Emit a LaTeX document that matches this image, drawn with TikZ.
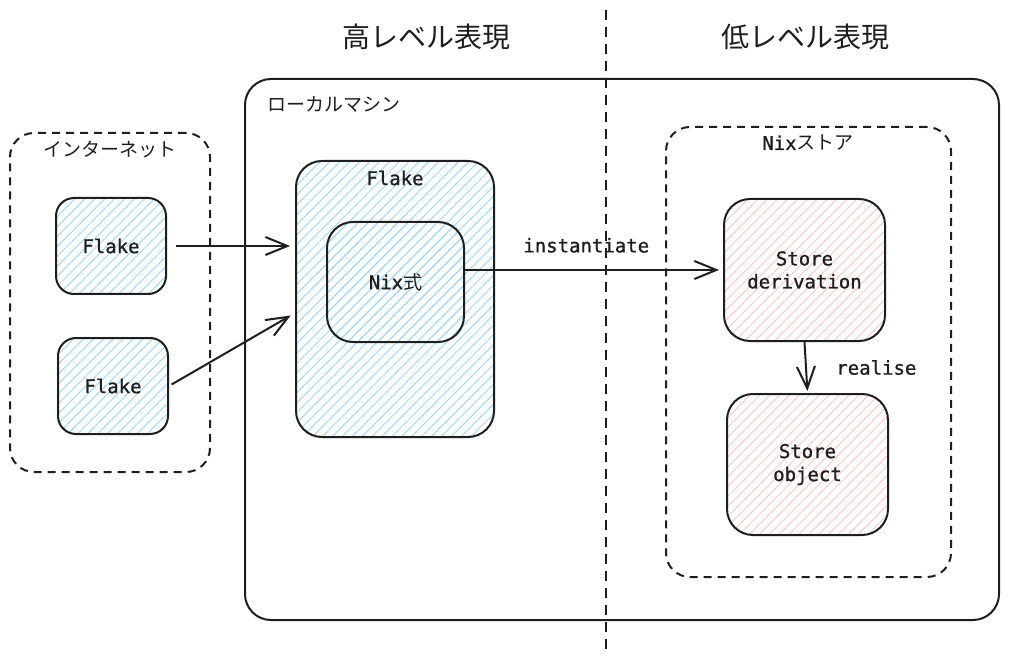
\documentclass[tikz,border=0pt]{standalone}
\usepackage{fontspec}
\newfontfamily\codefont{DejaVu Sans Mono}[FakeBold=1]
\newfontfamily\jp{Noto Sans CJK JP}
\usetikzlibrary{arrows.meta,patterns.meta,positioning}
\definecolor{ink}{HTML}{1E1E1E}
\definecolor{hatchb}{HTML}{A5D8FF}
\definecolor{hatchr}{HTML}{FFC9C9}

\begin{document}
\begin{tikzpicture}[x=1pt,y=-1pt,
    every node/.style={text=ink},
    box/.style={draw=ink,line width=2pt,rounded corners=#1,inner sep=0pt},
    box/.default=18pt,
    dashbox/.style={box=24pt,dash pattern=on 8pt off 6pt},
    hatchblue/.style={pattern={Lines[angle=45,distance=7pt,line width=1pt]},pattern color=hatchb},
    hatchred/.style={pattern={Lines[angle=45,distance=7pt,line width=1pt]},pattern color=hatchr},
    mono/.style={font=\fontsize{19}{23}\selectfont\codefont,align=center},
    arr/.style={draw=ink,line width=2pt,-{Straight Barb[length=22pt,width=18pt,line width=2pt]}}]
  \useasboundingbox (0,0) rectangle (1009,660);

  % titles and divider
  \node[font=\fontsize{28}{32}\selectfont\jp] (high) at (426,37) {高レベル表現};
  \node[font=\fontsize{28}{32}\selectfont\jp] (low) at (805,37) {低レベル表現};
  \coordinate (divtop) at (606,10);
  \coordinate (divbot) at (606,652);
  \draw[ink,line width=2pt,dash pattern=on 10pt off 7pt] (divtop) -- (divbot);

  % local machine
  \node[box=26pt,minimum width=754pt,minimum height=541pt] (local) at (622,349.5) {};
  \node[font=\fontsize{19}{22}\selectfont\jp,anchor=west] (localname) at (264,104) {ローカルマシン};

  % internet
  \node[dashbox,minimum width=200pt,minimum height=339pt] (net) at (110,302.5) {};
  \node[font=\fontsize{19}{22}\selectfont\jp] (netname) at (110,149) {インターネット};
  \node[box,hatchblue,minimum width=110pt,minimum height=96pt,mono] (flakeA) at (111,246) {Flake};
  \node[box,hatchblue,minimum width=110pt,minimum height=96pt,mono] (flakeB) at (113,386) {Flake};

  % flake in local machine
  \node[box=26pt,hatchblue,minimum width=198pt,minimum height=276pt] (flakeBig) at (395,299) {};
  \node[mono] (flakeBigname) at (395,178) {Flake};
  \node[box=26pt,hatchblue,minimum width=137pt,minimum height=120pt,mono] (nix) at (395.5,282) {Nix{\jp 式}};

  % nix store
  \node[dashbox,minimum width=285pt,minimum height=450pt] (store) at (808.5,352) {};
  \node[mono] (storename) at (808,143) {Nix{\jp ストア}};
  \node[box=26pt,hatchred,minimum width=161pt,minimum height=142pt,mono] (deriv) at (804.5,270) {Store\\derivation};
  \node[box=26pt,hatchred,minimum width=161pt,minimum height=141pt,mono] (obj) at (807.5,464.5) {Store\\object};

  % connectors
  \draw[arr,shorten <=9pt,shorten >=5pt] (flakeA.east) -- (flakeA.east -| flakeBig.west);
  \draw[arr,shorten <=3pt,shorten >=5pt] (flakeB.east) -- ([yshift=-14pt]flakeBig.west);
  \draw[arr,shorten >=4pt] (nix.east |- deriv.west) -- (deriv.west)
    node[mono,pos=0.47,above=13pt] (inst) {instantiate};
  \draw[arr,shorten >=2pt] (deriv.south) -- (obj.north)
    node[mono,midway,right=26pt] (real) {realise};
\end{tikzpicture}
\end{document}
